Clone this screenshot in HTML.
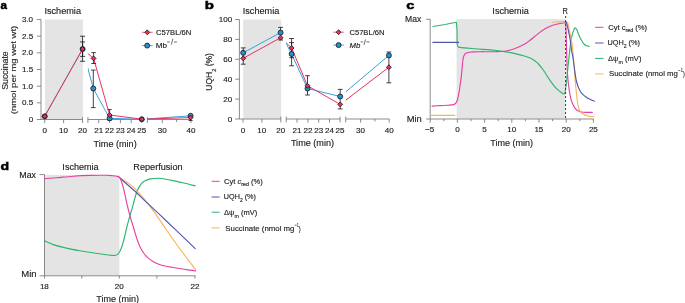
<!DOCTYPE html>
<html><head><meta charset="utf-8"><style>html,body{margin:0;padding:0;background:#fff;}svg{display:block;will-change:transform;}</style></head>
<body>
<svg width="685" height="303" viewBox="0 0 685 303" font-family="'Liberation Sans', sans-serif">
<rect width="685" height="303" fill="#fff"/>
<rect x="44.90" y="19.50" width="38.00" height="99.70" fill="#e4e4e4"/>
<line x1="41.00" y1="19.50" x2="41.00" y2="119.50" stroke="#6e6e6e" stroke-width="0.8"/>
<line x1="36.80" y1="119.50" x2="41.00" y2="119.50" stroke="#6e6e6e" stroke-width="0.8"/>
<line x1="36.80" y1="102.83" x2="41.00" y2="102.83" stroke="#6e6e6e" stroke-width="0.8"/>
<line x1="36.80" y1="86.17" x2="41.00" y2="86.17" stroke="#6e6e6e" stroke-width="0.8"/>
<line x1="36.80" y1="69.50" x2="41.00" y2="69.50" stroke="#6e6e6e" stroke-width="0.8"/>
<line x1="36.80" y1="52.83" x2="41.00" y2="52.83" stroke="#6e6e6e" stroke-width="0.8"/>
<line x1="36.80" y1="36.17" x2="41.00" y2="36.17" stroke="#6e6e6e" stroke-width="0.8"/>
<line x1="36.80" y1="19.50" x2="41.00" y2="19.50" stroke="#6e6e6e" stroke-width="0.8"/>
<line x1="41.00" y1="119.50" x2="82.50" y2="119.50" stroke="#6e6e6e" stroke-width="0.8"/>
<line x1="87.90" y1="119.50" x2="141.80" y2="119.50" stroke="#6e6e6e" stroke-width="0.8"/>
<line x1="147.40" y1="119.50" x2="190.90" y2="119.50" stroke="#6e6e6e" stroke-width="0.8"/>
<line x1="82.50" y1="117.10" x2="82.50" y2="122.90" stroke="#6e6e6e" stroke-width="0.8"/>
<line x1="87.90" y1="117.10" x2="87.90" y2="122.90" stroke="#6e6e6e" stroke-width="0.8"/>
<line x1="141.80" y1="117.10" x2="141.80" y2="122.90" stroke="#6e6e6e" stroke-width="0.8"/>
<line x1="147.40" y1="117.10" x2="147.40" y2="122.90" stroke="#6e6e6e" stroke-width="0.8"/>
<line x1="44.70" y1="119.50" x2="44.70" y2="123.10" stroke="#6e6e6e" stroke-width="0.8"/>
<line x1="63.60" y1="119.50" x2="63.60" y2="123.10" stroke="#6e6e6e" stroke-width="0.8"/>
<line x1="98.70" y1="119.50" x2="98.70" y2="123.10" stroke="#6e6e6e" stroke-width="0.8"/>
<line x1="109.60" y1="119.50" x2="109.60" y2="123.10" stroke="#6e6e6e" stroke-width="0.8"/>
<line x1="120.40" y1="119.50" x2="120.40" y2="123.10" stroke="#6e6e6e" stroke-width="0.8"/>
<line x1="131.20" y1="119.50" x2="131.20" y2="123.10" stroke="#6e6e6e" stroke-width="0.8"/>
<line x1="162.30" y1="119.50" x2="162.30" y2="123.10" stroke="#6e6e6e" stroke-width="0.8"/>
<line x1="190.90" y1="119.50" x2="190.90" y2="123.10" stroke="#6e6e6e" stroke-width="0.8"/>
<line x1="176.60" y1="119.50" x2="176.60" y2="122.00" stroke="#6e6e6e" stroke-width="0.8"/>
<clipPath id="ca"><rect x="41.0" y="0" width="41.90" height="303"/><rect x="87.9" y="0" width="54.300000000000004" height="303"/><rect x="147.4" y="0" width="44.099999999999994" height="303"/></clipPath>
<path d="M44.70,116.30 L82.60,49.00 L93.30,88.50 L109.60,118.30 L141.80,119.30 L190.60,115.80" fill="none" stroke="#36a0dc" stroke-width="1.0" clip-path="url(#ca)"/>
<path d="M44.70,116.30 L82.60,49.00 L93.60,58.40 L109.60,115.00 L141.80,119.20 L190.60,117.60" fill="none" stroke="#e8325f" stroke-width="1.0" clip-path="url(#ca)"/>
<line x1="82.60" y1="36.20" x2="82.60" y2="61.30" stroke="#151515" stroke-width="0.8"/>
<line x1="80.10" y1="36.20" x2="85.10" y2="36.20" stroke="#151515" stroke-width="0.8"/>
<line x1="80.10" y1="61.30" x2="85.10" y2="61.30" stroke="#151515" stroke-width="0.8"/>
<line x1="82.60" y1="41.90" x2="82.60" y2="56.40" stroke="#151515" stroke-width="0.8"/>
<line x1="80.10" y1="41.90" x2="85.10" y2="41.90" stroke="#151515" stroke-width="0.8"/>
<line x1="80.10" y1="56.40" x2="85.10" y2="56.40" stroke="#151515" stroke-width="0.8"/>
<line x1="93.60" y1="52.60" x2="93.60" y2="63.50" stroke="#151515" stroke-width="0.8"/>
<line x1="91.30" y1="52.60" x2="95.90" y2="52.60" stroke="#151515" stroke-width="0.8"/>
<line x1="91.30" y1="63.50" x2="95.90" y2="63.50" stroke="#151515" stroke-width="0.8"/>
<line x1="93.30" y1="70.10" x2="93.30" y2="107.60" stroke="#151515" stroke-width="0.8"/>
<line x1="91.00" y1="70.10" x2="95.60" y2="70.10" stroke="#151515" stroke-width="0.8"/>
<line x1="91.00" y1="107.60" x2="95.60" y2="107.60" stroke="#151515" stroke-width="0.8"/>
<line x1="109.60" y1="109.50" x2="109.60" y2="120.50" stroke="#151515" stroke-width="0.8"/>
<line x1="107.60" y1="109.50" x2="111.60" y2="109.50" stroke="#151515" stroke-width="0.8"/>
<line x1="107.60" y1="120.50" x2="111.60" y2="120.50" stroke="#151515" stroke-width="0.8"/>
<line x1="190.60" y1="114.50" x2="190.60" y2="120.50" stroke="#151515" stroke-width="0.8"/>
<line x1="188.60" y1="114.50" x2="192.60" y2="114.50" stroke="#151515" stroke-width="0.8"/>
<line x1="188.60" y1="120.50" x2="192.60" y2="120.50" stroke="#151515" stroke-width="0.8"/>
<circle cx="44.70" cy="116.30" r="2.5" fill="#2391d2" stroke="#151515" stroke-width="0.8"/>
<circle cx="82.60" cy="49.00" r="2.5" fill="#2391d2" stroke="#151515" stroke-width="0.8"/>
<circle cx="93.30" cy="88.50" r="2.5" fill="#2391d2" stroke="#151515" stroke-width="0.8"/>
<circle cx="109.60" cy="118.30" r="2.5" fill="#2391d2" stroke="#151515" stroke-width="0.8"/>
<circle cx="141.80" cy="119.30" r="2.5" fill="#2391d2" stroke="#151515" stroke-width="0.8"/>
<circle cx="190.60" cy="115.80" r="2.5" fill="#2391d2" stroke="#151515" stroke-width="0.8"/>
<path d="M44.70,113.85 L47.15,116.30 L44.70,118.75 L42.25,116.30 Z" fill="#e8325f" stroke="#151515" stroke-width="0.8"/>
<path d="M82.60,46.55 L85.05,49.00 L82.60,51.45 L80.15,49.00 Z" fill="#e8325f" stroke="#151515" stroke-width="0.8"/>
<path d="M93.60,55.95 L96.05,58.40 L93.60,60.85 L91.15,58.40 Z" fill="#e8325f" stroke="#151515" stroke-width="0.8"/>
<path d="M109.60,112.55 L112.05,115.00 L109.60,117.45 L107.15,115.00 Z" fill="#e8325f" stroke="#151515" stroke-width="0.8"/>
<path d="M141.80,116.75 L144.25,119.20 L141.80,121.65 L139.35,119.20 Z" fill="#e8325f" stroke="#151515" stroke-width="0.8"/>
<path d="M190.60,115.15 L193.05,117.60 L190.60,120.05 L188.15,117.60 Z" fill="#e8325f" stroke="#151515" stroke-width="0.8"/>
<g transform="translate(28.63,122.00) scale(1.1200,1)" fill="#222" stroke="#222" stroke-width="0.14"><text x="0.00" y="0.00" font-size="7.2">0</text></g>
<g transform="translate(21.93,105.33) scale(1.1200,1)" fill="#222" stroke="#222" stroke-width="0.14"><text x="0.00" y="0.00" font-size="7.2">0.5</text></g>
<g transform="translate(21.91,88.67) scale(1.1200,1)" fill="#222" stroke="#222" stroke-width="0.14"><text x="0.00" y="0.00" font-size="7.2">1.0</text></g>
<g transform="translate(21.93,72.00) scale(1.1200,1)" fill="#222" stroke="#222" stroke-width="0.14"><text x="0.00" y="0.00" font-size="7.2">1.5</text></g>
<g transform="translate(21.91,55.33) scale(1.1200,1)" fill="#222" stroke="#222" stroke-width="0.14"><text x="0.00" y="0.00" font-size="7.2">2.0</text></g>
<g transform="translate(21.93,38.67) scale(1.1200,1)" fill="#222" stroke="#222" stroke-width="0.14"><text x="0.00" y="0.00" font-size="7.2">2.5</text></g>
<g transform="translate(21.91,22.00) scale(1.1200,1)" fill="#222" stroke="#222" stroke-width="0.14"><text x="0.00" y="0.00" font-size="7.2">3.0</text></g>
<g transform="translate(42.46,133.00) scale(1.1200,1)" fill="#222" stroke="#222" stroke-width="0.14"><text x="0.00" y="0.00" font-size="7.2">0</text></g>
<g transform="translate(58.97,133.00) scale(1.1200,1)" fill="#222" stroke="#222" stroke-width="0.14"><text x="0.00" y="0.00" font-size="7.2">10</text></g>
<g transform="translate(77.97,133.00) scale(1.1200,1)" fill="#222" stroke="#222" stroke-width="0.14"><text x="0.00" y="0.00" font-size="7.2">20</text></g>
<g transform="translate(94.21,133.00) scale(1.1200,1)" fill="#222" stroke="#222" stroke-width="0.14"><text x="0.00" y="0.00" font-size="7.2">21</text></g>
<g transform="translate(105.12,133.00) scale(1.1200,1)" fill="#222" stroke="#222" stroke-width="0.14"><text x="0.00" y="0.00" font-size="7.2">22</text></g>
<g transform="translate(115.89,133.00) scale(1.1200,1)" fill="#222" stroke="#222" stroke-width="0.14"><text x="0.00" y="0.00" font-size="7.2">23</text></g>
<g transform="translate(126.63,133.00) scale(1.1200,1)" fill="#222" stroke="#222" stroke-width="0.14"><text x="0.00" y="0.00" font-size="7.2">24</text></g>
<g transform="translate(137.28,133.00) scale(1.1200,1)" fill="#222" stroke="#222" stroke-width="0.14"><text x="0.00" y="0.00" font-size="7.2">25</text></g>
<g transform="translate(157.82,133.00) scale(1.1200,1)" fill="#222" stroke="#222" stroke-width="0.14"><text x="0.00" y="0.00" font-size="7.2">30</text></g>
<g transform="translate(186.48,133.00) scale(1.1200,1)" fill="#222" stroke="#222" stroke-width="0.14"><text x="0.00" y="0.00" font-size="7.2">40</text></g>
<g transform="translate(93.60,146.50) scale(1.0467,1)" fill="#222" stroke="#222" stroke-width="0.14"><text x="0.00" y="0.00" font-size="8.7">Time (min)</text></g>
<g transform="translate(44.46,14.30) scale(1.0744,1)" fill="#222" stroke="#222" stroke-width="0.14"><text x="0.00" y="0.00" font-size="8.5">Ischemia</text></g>
<g transform="translate(0.56,8.90) scale(1.0771,1)" fill="#000" stroke="#000" stroke-width="0.5"><text x="0.00" y="0.00" font-size="10.8" font-weight="bold">a</text></g>
<g transform="translate(7.90,89.40) rotate(-90) translate(-0.40,0) scale(1.0589,1)" fill="#222" stroke="#222" stroke-width="0.14"><text x="0.00" y="0.00" font-size="8.3">Succinate</text></g>
<g transform="translate(15.80,113.60) rotate(-90) translate(-0.59,0) scale(1.2485,1)" fill="#222" stroke="#222" stroke-width="0.14"><text x="0.00" y="0.00" font-size="7.6">(nmol per mg wet wt)</text></g>
<line x1="141.90" y1="32.30" x2="152.70" y2="32.30" stroke="#ea4a73" stroke-width="0.9"/>
<path d="M147.20,29.85 L149.65,32.30 L147.20,34.75 L144.75,32.30 Z" fill="#e8325f" stroke="#151515" stroke-width="0.8"/>
<line x1="141.90" y1="45.60" x2="152.70" y2="45.60" stroke="#3aa3dd" stroke-width="0.9"/>
<circle cx="147.20" cy="45.60" r="2.5" fill="#2391d2" stroke="#151515" stroke-width="0.8"/>
<g transform="translate(156.01,34.80) scale(1.0234,1)" fill="#222" stroke="#222" stroke-width="0.14"><text x="0.00" y="0.00" font-size="7.5">C57BL/6N</text></g>
<g transform="translate(155.83,47.90) scale(1.0856,1)" fill="#222" stroke="#222" stroke-width="0.14"><text x="0.00" y="0.00" font-size="7.5">Mb</text></g>
<line x1="167.10" y1="42.00" x2="169.90" y2="42.00" stroke="#333" stroke-width="0.7"/>
<line x1="172.90" y1="38.70" x2="171.30" y2="44.60" stroke="#333" stroke-width="0.7"/>
<line x1="173.90" y1="42.00" x2="176.90" y2="42.00" stroke="#333" stroke-width="0.7"/>
<rect x="243.20" y="19.50" width="38.00" height="99.20" fill="#e4e4e4"/>
<line x1="239.40" y1="19.50" x2="239.40" y2="119.00" stroke="#6e6e6e" stroke-width="0.8"/>
<line x1="235.20" y1="119.00" x2="239.40" y2="119.00" stroke="#6e6e6e" stroke-width="0.8"/>
<line x1="235.20" y1="99.10" x2="239.40" y2="99.10" stroke="#6e6e6e" stroke-width="0.8"/>
<line x1="235.20" y1="79.20" x2="239.40" y2="79.20" stroke="#6e6e6e" stroke-width="0.8"/>
<line x1="235.20" y1="59.30" x2="239.40" y2="59.30" stroke="#6e6e6e" stroke-width="0.8"/>
<line x1="235.20" y1="39.40" x2="239.40" y2="39.40" stroke="#6e6e6e" stroke-width="0.8"/>
<line x1="235.20" y1="19.50" x2="239.40" y2="19.50" stroke="#6e6e6e" stroke-width="0.8"/>
<line x1="239.40" y1="119.00" x2="280.80" y2="119.00" stroke="#6e6e6e" stroke-width="0.8"/>
<line x1="286.20" y1="119.00" x2="340.10" y2="119.00" stroke="#6e6e6e" stroke-width="0.8"/>
<line x1="345.70" y1="119.00" x2="389.20" y2="119.00" stroke="#6e6e6e" stroke-width="0.8"/>
<line x1="280.80" y1="116.60" x2="280.80" y2="122.40" stroke="#6e6e6e" stroke-width="0.8"/>
<line x1="286.20" y1="116.60" x2="286.20" y2="122.40" stroke="#6e6e6e" stroke-width="0.8"/>
<line x1="340.10" y1="116.60" x2="340.10" y2="122.40" stroke="#6e6e6e" stroke-width="0.8"/>
<line x1="345.70" y1="116.60" x2="345.70" y2="122.40" stroke="#6e6e6e" stroke-width="0.8"/>
<line x1="243.00" y1="119.00" x2="243.00" y2="122.60" stroke="#6e6e6e" stroke-width="0.8"/>
<line x1="261.90" y1="119.00" x2="261.90" y2="122.60" stroke="#6e6e6e" stroke-width="0.8"/>
<line x1="297.00" y1="119.00" x2="297.00" y2="122.60" stroke="#6e6e6e" stroke-width="0.8"/>
<line x1="307.90" y1="119.00" x2="307.90" y2="122.60" stroke="#6e6e6e" stroke-width="0.8"/>
<line x1="318.70" y1="119.00" x2="318.70" y2="122.60" stroke="#6e6e6e" stroke-width="0.8"/>
<line x1="329.50" y1="119.00" x2="329.50" y2="122.60" stroke="#6e6e6e" stroke-width="0.8"/>
<line x1="360.60" y1="119.00" x2="360.60" y2="122.60" stroke="#6e6e6e" stroke-width="0.8"/>
<line x1="389.20" y1="119.00" x2="389.20" y2="122.60" stroke="#6e6e6e" stroke-width="0.8"/>
<line x1="374.90" y1="119.00" x2="374.90" y2="121.50" stroke="#6e6e6e" stroke-width="0.8"/>
<clipPath id="cb"><rect x="239.4" y="0" width="41.80" height="303"/><rect x="286.20000000000005" y="0" width="54.300000000000004" height="303"/><rect x="345.70000000000005" y="0" width="44.099999999999994" height="303"/></clipPath>
<path d="M243.20,52.80 L280.60,32.60 L291.60,54.00 L307.50,88.50 L340.20,96.50 L388.90,55.40" fill="none" stroke="#36a0dc" stroke-width="1.0" clip-path="url(#cb)"/>
<path d="M243.20,58.30 L280.60,37.70 L291.60,48.00 L307.50,85.80 L340.20,104.40 L388.90,67.20" fill="none" stroke="#e8325f" stroke-width="1.0" clip-path="url(#cb)"/>
<line x1="243.20" y1="47.90" x2="243.20" y2="64.20" stroke="#151515" stroke-width="0.8"/>
<line x1="240.80" y1="47.90" x2="245.60" y2="47.90" stroke="#151515" stroke-width="0.8"/>
<line x1="240.80" y1="64.20" x2="245.60" y2="64.20" stroke="#151515" stroke-width="0.8"/>
<line x1="280.60" y1="27.40" x2="280.60" y2="40.00" stroke="#151515" stroke-width="0.8"/>
<line x1="278.20" y1="27.40" x2="283.00" y2="27.40" stroke="#151515" stroke-width="0.8"/>
<line x1="278.20" y1="40.00" x2="283.00" y2="40.00" stroke="#151515" stroke-width="0.8"/>
<line x1="291.60" y1="38.50" x2="291.60" y2="57.70" stroke="#151515" stroke-width="0.8"/>
<line x1="289.20" y1="38.50" x2="294.00" y2="38.50" stroke="#151515" stroke-width="0.8"/>
<line x1="289.20" y1="57.70" x2="294.00" y2="57.70" stroke="#151515" stroke-width="0.8"/>
<line x1="291.60" y1="42.60" x2="291.60" y2="65.80" stroke="#151515" stroke-width="0.8"/>
<line x1="289.20" y1="42.60" x2="294.00" y2="42.60" stroke="#151515" stroke-width="0.8"/>
<line x1="289.20" y1="65.80" x2="294.00" y2="65.80" stroke="#151515" stroke-width="0.8"/>
<line x1="307.50" y1="75.70" x2="307.50" y2="95.00" stroke="#151515" stroke-width="0.8"/>
<line x1="305.10" y1="75.70" x2="309.90" y2="75.70" stroke="#151515" stroke-width="0.8"/>
<line x1="305.10" y1="95.00" x2="309.90" y2="95.00" stroke="#151515" stroke-width="0.8"/>
<line x1="340.20" y1="89.40" x2="340.20" y2="108.90" stroke="#151515" stroke-width="0.8"/>
<line x1="337.80" y1="89.40" x2="342.60" y2="89.40" stroke="#151515" stroke-width="0.8"/>
<line x1="337.80" y1="108.90" x2="342.60" y2="108.90" stroke="#151515" stroke-width="0.8"/>
<line x1="388.90" y1="52.00" x2="388.90" y2="82.80" stroke="#151515" stroke-width="0.8"/>
<line x1="386.50" y1="52.00" x2="391.30" y2="52.00" stroke="#151515" stroke-width="0.8"/>
<line x1="386.50" y1="82.80" x2="391.30" y2="82.80" stroke="#151515" stroke-width="0.8"/>
<circle cx="243.20" cy="52.80" r="2.5" fill="#2391d2" stroke="#151515" stroke-width="0.8"/>
<circle cx="280.60" cy="32.60" r="2.5" fill="#2391d2" stroke="#151515" stroke-width="0.8"/>
<circle cx="291.60" cy="54.00" r="2.5" fill="#2391d2" stroke="#151515" stroke-width="0.8"/>
<circle cx="307.50" cy="88.50" r="2.5" fill="#2391d2" stroke="#151515" stroke-width="0.8"/>
<circle cx="340.20" cy="96.50" r="2.5" fill="#2391d2" stroke="#151515" stroke-width="0.8"/>
<circle cx="388.90" cy="55.40" r="2.5" fill="#2391d2" stroke="#151515" stroke-width="0.8"/>
<path d="M243.20,55.85 L245.65,58.30 L243.20,60.75 L240.75,58.30 Z" fill="#e8325f" stroke="#151515" stroke-width="0.8"/>
<path d="M280.60,35.25 L283.05,37.70 L280.60,40.15 L278.15,37.70 Z" fill="#e8325f" stroke="#151515" stroke-width="0.8"/>
<path d="M291.60,45.55 L294.05,48.00 L291.60,50.45 L289.15,48.00 Z" fill="#e8325f" stroke="#151515" stroke-width="0.8"/>
<path d="M307.50,83.35 L309.95,85.80 L307.50,88.25 L305.05,85.80 Z" fill="#e8325f" stroke="#151515" stroke-width="0.8"/>
<path d="M340.20,101.95 L342.65,104.40 L340.20,106.85 L337.75,104.40 Z" fill="#e8325f" stroke="#151515" stroke-width="0.8"/>
<path d="M388.90,64.75 L391.35,67.20 L388.90,69.65 L386.45,67.20 Z" fill="#e8325f" stroke="#151515" stroke-width="0.8"/>
<g transform="translate(227.83,121.50) scale(1.1200,1)" fill="#222" stroke="#222" stroke-width="0.14"><text x="0.00" y="0.00" font-size="7.2">0</text></g>
<g transform="translate(223.35,101.60) scale(1.1200,1)" fill="#222" stroke="#222" stroke-width="0.14"><text x="0.00" y="0.00" font-size="7.2">20</text></g>
<g transform="translate(223.35,81.70) scale(1.1200,1)" fill="#222" stroke="#222" stroke-width="0.14"><text x="0.00" y="0.00" font-size="7.2">40</text></g>
<g transform="translate(223.35,61.80) scale(1.1200,1)" fill="#222" stroke="#222" stroke-width="0.14"><text x="0.00" y="0.00" font-size="7.2">60</text></g>
<g transform="translate(223.35,41.90) scale(1.1200,1)" fill="#222" stroke="#222" stroke-width="0.14"><text x="0.00" y="0.00" font-size="7.2">80</text></g>
<g transform="translate(218.86,22.00) scale(1.1200,1)" fill="#222" stroke="#222" stroke-width="0.14"><text x="0.00" y="0.00" font-size="7.2">100</text></g>
<g transform="translate(240.76,132.70) scale(1.1200,1)" fill="#222" stroke="#222" stroke-width="0.14"><text x="0.00" y="0.00" font-size="7.2">0</text></g>
<g transform="translate(257.27,132.70) scale(1.1200,1)" fill="#222" stroke="#222" stroke-width="0.14"><text x="0.00" y="0.00" font-size="7.2">10</text></g>
<g transform="translate(276.27,132.70) scale(1.1200,1)" fill="#222" stroke="#222" stroke-width="0.14"><text x="0.00" y="0.00" font-size="7.2">20</text></g>
<g transform="translate(292.51,132.70) scale(1.1200,1)" fill="#222" stroke="#222" stroke-width="0.14"><text x="0.00" y="0.00" font-size="7.2">21</text></g>
<g transform="translate(303.42,132.70) scale(1.1200,1)" fill="#222" stroke="#222" stroke-width="0.14"><text x="0.00" y="0.00" font-size="7.2">22</text></g>
<g transform="translate(314.19,132.70) scale(1.1200,1)" fill="#222" stroke="#222" stroke-width="0.14"><text x="0.00" y="0.00" font-size="7.2">23</text></g>
<g transform="translate(324.93,132.70) scale(1.1200,1)" fill="#222" stroke="#222" stroke-width="0.14"><text x="0.00" y="0.00" font-size="7.2">24</text></g>
<g transform="translate(335.58,132.70) scale(1.1200,1)" fill="#222" stroke="#222" stroke-width="0.14"><text x="0.00" y="0.00" font-size="7.2">25</text></g>
<g transform="translate(356.12,132.70) scale(1.1200,1)" fill="#222" stroke="#222" stroke-width="0.14"><text x="0.00" y="0.00" font-size="7.2">30</text></g>
<g transform="translate(384.78,132.70) scale(1.1200,1)" fill="#222" stroke="#222" stroke-width="0.14"><text x="0.00" y="0.00" font-size="7.2">40</text></g>
<g transform="translate(290.90,145.50) scale(1.0467,1)" fill="#222" stroke="#222" stroke-width="0.14"><text x="0.00" y="0.00" font-size="8.7">Time (min)</text></g>
<g transform="translate(242.76,14.30) scale(1.0744,1)" fill="#222" stroke="#222" stroke-width="0.14"><text x="0.00" y="0.00" font-size="8.5">Ischemia</text></g>
<g transform="translate(204.70,9.30) scale(1.3962,1)" fill="#000" stroke="#000" stroke-width="0.5"><text x="0.00" y="0.00" font-size="10.8" font-weight="bold">b</text></g>
<g transform="translate(212.20,90.00) rotate(-90) translate(-0.65,0) scale(0.9972,1)" fill="#222" stroke="#222" stroke-width="0.14"><text x="0.00" y="0.00" font-size="8.5">UQH</text><text x="18.89" y="3.40" font-size="5.6">2</text><text x="22.00" y="0.00" font-size="8.5"> (%)</text></g>
<line x1="333.30" y1="32.20" x2="343.90" y2="32.20" stroke="#ea4a73" stroke-width="0.9"/>
<path d="M338.60,29.75 L341.05,32.20 L338.60,34.65 L336.15,32.20 Z" fill="#e8325f" stroke="#151515" stroke-width="0.8"/>
<line x1="333.30" y1="45.10" x2="343.90" y2="45.10" stroke="#3aa3dd" stroke-width="0.9"/>
<circle cx="338.60" cy="45.10" r="2.5" fill="#2391d2" stroke="#151515" stroke-width="0.8"/>
<g transform="translate(349.41,34.60) scale(1.0144,1)" fill="#222" stroke="#222" stroke-width="0.14"><text x="0.00" y="0.00" font-size="7.5">C57BL/6N</text></g>
<g transform="translate(349.56,47.60) scale(1.0349,1)" fill="#222" stroke="#222" stroke-width="0.14"><text x="0.00" y="0.00" font-size="7.5" font-style="italic">Mb</text></g>
<line x1="360.60" y1="41.90" x2="363.20" y2="41.90" stroke="#333" stroke-width="0.7"/>
<line x1="365.50" y1="39.40" x2="364.00" y2="45.00" stroke="#333" stroke-width="0.7"/>
<line x1="366.40" y1="41.90" x2="369.60" y2="41.90" stroke="#333" stroke-width="0.7"/>
<rect x="456.60" y="19.10" width="108.90" height="99.50" fill="#e4e4e4"/>
<line x1="430.20" y1="19.30" x2="430.20" y2="119.00" stroke="#6e6e6e" stroke-width="0.8"/>
<line x1="426.20" y1="19.30" x2="430.20" y2="19.30" stroke="#6e6e6e" stroke-width="0.8"/>
<line x1="426.20" y1="119.00" x2="430.20" y2="119.00" stroke="#6e6e6e" stroke-width="0.8"/>
<line x1="430.20" y1="119.00" x2="593.60" y2="119.00" stroke="#6e6e6e" stroke-width="0.8"/>
<line x1="430.20" y1="119.00" x2="430.20" y2="122.70" stroke="#6e6e6e" stroke-width="0.8"/>
<line x1="443.80" y1="119.00" x2="443.80" y2="121.20" stroke="#6e6e6e" stroke-width="0.8"/>
<line x1="457.40" y1="119.00" x2="457.40" y2="122.70" stroke="#6e6e6e" stroke-width="0.8"/>
<line x1="471.00" y1="119.00" x2="471.00" y2="121.20" stroke="#6e6e6e" stroke-width="0.8"/>
<line x1="484.60" y1="119.00" x2="484.60" y2="122.70" stroke="#6e6e6e" stroke-width="0.8"/>
<line x1="498.20" y1="119.00" x2="498.20" y2="121.20" stroke="#6e6e6e" stroke-width="0.8"/>
<line x1="511.80" y1="119.00" x2="511.80" y2="122.70" stroke="#6e6e6e" stroke-width="0.8"/>
<line x1="525.40" y1="119.00" x2="525.40" y2="121.20" stroke="#6e6e6e" stroke-width="0.8"/>
<line x1="539.00" y1="119.00" x2="539.00" y2="122.70" stroke="#6e6e6e" stroke-width="0.8"/>
<line x1="552.60" y1="119.00" x2="552.60" y2="121.20" stroke="#6e6e6e" stroke-width="0.8"/>
<line x1="566.20" y1="119.00" x2="566.20" y2="122.70" stroke="#6e6e6e" stroke-width="0.8"/>
<line x1="579.80" y1="119.00" x2="579.80" y2="121.20" stroke="#6e6e6e" stroke-width="0.8"/>
<line x1="593.40" y1="119.00" x2="593.40" y2="122.70" stroke="#6e6e6e" stroke-width="0.8"/>
<path d="M432.90,26.50 L445.00,24.50 L456.30,22.30" fill="none" stroke="#2db56e" stroke-width="1.15" stroke-linejoin="round" stroke-linecap="round"/>
<path d="M456.30,22.30 C456.42,23.58 456.85,26.35 457.00,30.00 C457.15,33.65 457.00,41.43 457.20,44.20 C457.40,46.97 457.73,46.07 458.20,46.60 C458.67,47.13 457.23,47.05 460.00,47.40 C462.77,47.75 469.03,48.23 474.80,48.70 C480.57,49.17 489.65,49.72 494.60,50.20 C499.55,50.68 501.20,51.07 504.50,51.60 C507.80,52.13 511.10,52.67 514.40,53.40 C517.70,54.13 521.70,55.23 524.30,56.00 C526.90,56.77 528.33,57.25 530.00,58.00 C531.67,58.75 532.97,59.58 534.30,60.50 C535.63,61.42 536.57,62.00 538.00,63.50 C539.43,65.00 541.02,66.87 542.90,69.50 C544.78,72.13 547.15,76.23 549.30,79.30 C551.45,82.37 554.02,85.87 555.80,87.90 C557.58,89.93 558.65,90.48 560.00,91.50 C561.35,92.52 563.02,94.08 563.90,94.00 C564.78,93.92 564.87,93.08 565.30,91.00 C565.73,88.92 565.93,86.67 566.50,81.50 C567.07,76.33 567.97,66.72 568.70,60.00 C569.43,53.28 570.23,45.67 570.90,41.20 C571.57,36.73 572.10,35.33 572.70,33.20 C573.30,31.07 574.05,29.27 574.50,28.40 C574.95,27.53 575.03,27.80 575.40,28.00 C575.77,28.20 576.18,28.60 576.70,29.60 C577.22,30.60 577.95,32.67 578.50,34.00 C579.05,35.33 579.33,36.27 580.00,37.60 C580.67,38.93 581.75,40.85 582.50,42.00 C583.25,43.15 583.83,43.87 584.50,44.50 C585.17,45.13 585.70,45.52 586.50,45.80 C587.30,46.08 588.83,46.13 589.30,46.20" fill="none" stroke="#2db56e" stroke-width="1.15" stroke-linejoin="round" stroke-linecap="round"/>
<path d="M432.90,42.40 L458.60,42.40" fill="none" stroke="#5258b0" stroke-width="1.15" stroke-linejoin="round" stroke-linecap="round"/>
<path d="M430.80,115.40 L454.70,115.40" fill="none" stroke="#f7b65a" stroke-width="1.15" stroke-linejoin="round" stroke-linecap="round"/>
<path d="M432.20,106.10 C433.50,106.02 437.37,105.75 440.00,105.60 C442.63,105.45 446.00,105.32 448.00,105.20 C450.00,105.08 450.92,105.07 452.00,104.90 C453.08,104.73 453.80,104.58 454.50,104.20 C455.20,103.82 455.70,103.38 456.20,102.60 C456.70,101.82 457.10,100.85 457.50,99.50 C457.90,98.15 458.25,96.25 458.60,94.50 C458.95,92.75 459.12,92.30 459.60,89.00 C460.08,85.70 460.95,79.53 461.50,74.70 C462.05,69.87 462.50,63.15 462.90,60.00 C463.30,56.85 463.42,56.93 463.90,55.80 C464.38,54.67 464.82,53.80 465.80,53.20 C466.78,52.60 468.43,52.42 469.80,52.20 C471.17,51.98 472.30,51.98 474.00,51.90 C475.70,51.82 478.22,51.73 480.00,51.70 C481.78,51.67 482.27,51.70 484.70,51.70 C487.13,51.70 491.30,51.78 494.60,51.70 C497.90,51.62 501.20,51.68 504.50,51.20 C507.80,50.72 511.10,49.95 514.40,48.80 C517.70,47.65 521.70,45.72 524.30,44.30 C526.90,42.88 527.68,42.08 530.00,40.30 C532.32,38.52 535.62,35.55 538.20,33.60 C540.78,31.65 543.07,29.98 545.50,28.60 C547.93,27.22 550.37,26.15 552.80,25.30 C555.23,24.45 558.02,23.95 560.10,23.50 C562.18,23.05 564.43,22.75 565.30,22.60" fill="none" stroke="#e83fa3" stroke-width="1.15" stroke-linejoin="round" stroke-linecap="round"/>
<path d="M565.30,22.60 C565.42,23.50 565.78,23.43 566.00,28.00 C566.22,32.57 566.38,43.00 566.60,50.00 C566.82,57.00 567.00,64.33 567.30,70.00 C567.60,75.67 567.82,79.22 568.40,84.00 C568.98,88.78 570.03,95.28 570.80,98.70 C571.57,102.12 572.28,102.90 573.00,104.50 C573.72,106.10 574.27,107.25 575.10,108.30 C575.93,109.35 576.93,110.18 578.00,110.80 C579.07,111.42 580.17,111.73 581.50,112.00 C582.83,112.27 584.20,112.33 586.00,112.40 C587.80,112.47 591.25,112.40 592.30,112.40" fill="none" stroke="#e83fa3" stroke-width="1.15" stroke-linejoin="round" stroke-linecap="round"/>
<path d="M552.10,22.20 C553.08,22.15 555.85,22.00 558.00,21.90 C560.15,21.80 563.58,21.62 565.00,21.60 C566.42,21.58 566.03,21.52 566.50,21.80 C566.97,22.08 567.43,22.45 567.80,23.30 C568.17,24.15 568.40,25.55 568.70,26.90 C569.00,28.25 569.30,29.92 569.60,31.40 C569.90,32.88 570.20,34.32 570.50,35.80 C570.80,37.28 571.12,38.77 571.40,40.30 C571.68,41.83 571.90,42.55 572.20,45.00 C572.50,47.45 572.85,51.17 573.20,55.00 C573.55,58.83 573.95,63.58 574.30,68.00 C574.65,72.42 574.93,77.17 575.30,81.50 C575.67,85.83 576.08,90.25 576.50,94.00 C576.92,97.75 577.30,101.28 577.80,104.00 C578.30,106.72 578.67,108.67 579.50,110.30 C580.33,111.93 581.22,112.80 582.80,113.80 C584.38,114.80 587.13,115.80 589.00,116.30 C590.87,116.80 593.17,116.72 594.00,116.80" fill="none" stroke="#f7b65a" stroke-width="1.15" stroke-linejoin="round" stroke-linecap="round"/>
<path d="M565.80,21.50 C565.98,21.95 566.57,23.15 566.90,24.20 C567.23,25.25 567.50,26.45 567.80,27.80 C568.10,29.15 568.33,30.52 568.70,32.30 C569.07,34.08 569.63,36.38 570.00,38.50 C570.37,40.62 570.63,42.92 570.90,45.00 C571.17,47.08 571.28,49.08 571.60,51.00 C571.92,52.92 572.32,53.50 572.80,56.50 C573.28,59.50 573.88,64.83 574.50,69.00 C575.12,73.17 575.53,77.75 576.50,81.50 C577.47,85.25 578.83,89.00 580.30,91.50 C581.77,94.00 583.68,95.20 585.30,96.50 C586.92,97.80 588.48,98.52 590.00,99.30 C591.52,100.08 593.67,100.88 594.40,101.20" fill="none" stroke="#5258b0" stroke-width="1.15" stroke-linejoin="round" stroke-linecap="round"/>
<line x1="565.6" y1="16.0" x2="565.6" y2="119" stroke="#3a3a3a" stroke-width="1.0" stroke-dasharray="2.0 2.0"/>
<g transform="translate(562.39,13.60) scale(0.8940,1)" fill="#222" stroke="#222" stroke-width="0.14"><text x="0.00" y="0.00" font-size="8.3">R</text></g>
<g transform="translate(492.36,14.40) scale(1.0714,1)" fill="#222" stroke="#222" stroke-width="0.14"><text x="0.00" y="0.00" font-size="8.5">Ischemia</text></g>
<g transform="translate(406.33,8.80) scale(1.3471,1)" fill="#000" stroke="#000" stroke-width="0.5"><text x="0.00" y="0.00" font-size="10.8" font-weight="bold">c</text></g>
<g transform="translate(405.10,22.10) scale(1.0088,1)" fill="#222" stroke="#222" stroke-width="0.14"><text x="0.00" y="0.00" font-size="8.5">Max</text></g>
<g transform="translate(406.63,122.00) scale(1.1009,1)" fill="#222" stroke="#222" stroke-width="0.14"><text x="0.00" y="0.00" font-size="8.5">Min</text></g>
<g transform="translate(424.98,132.20) scale(1.1200,1)" fill="#222" stroke="#222" stroke-width="0.14"><text x="0.00" y="0.00" font-size="7.2">−5</text></g>
<g transform="translate(455.16,132.20) scale(1.1200,1)" fill="#222" stroke="#222" stroke-width="0.14"><text x="0.00" y="0.00" font-size="7.2">0</text></g>
<g transform="translate(482.37,132.20) scale(1.1200,1)" fill="#222" stroke="#222" stroke-width="0.14"><text x="0.00" y="0.00" font-size="7.2">5</text></g>
<g transform="translate(507.17,132.20) scale(1.1200,1)" fill="#222" stroke="#222" stroke-width="0.14"><text x="0.00" y="0.00" font-size="7.2">10</text></g>
<g transform="translate(534.38,132.20) scale(1.1200,1)" fill="#222" stroke="#222" stroke-width="0.14"><text x="0.00" y="0.00" font-size="7.2">15</text></g>
<g transform="translate(561.67,132.20) scale(1.1200,1)" fill="#222" stroke="#222" stroke-width="0.14"><text x="0.00" y="0.00" font-size="7.2">20</text></g>
<g transform="translate(588.88,132.20) scale(1.1200,1)" fill="#222" stroke="#222" stroke-width="0.14"><text x="0.00" y="0.00" font-size="7.2">25</text></g>
<g transform="translate(490.20,146.20) scale(1.0638,1)" fill="#222" stroke="#222" stroke-width="0.14"><text x="0.00" y="0.00" font-size="8.5">Time (min)</text></g>
<line x1="595.10" y1="27.30" x2="603.50" y2="27.30" stroke="#e83fa3" stroke-width="1.0"/>
<line x1="595.10" y1="43.00" x2="603.50" y2="43.00" stroke="#5258b0" stroke-width="1.0"/>
<line x1="595.10" y1="58.40" x2="603.50" y2="58.40" stroke="#2db56e" stroke-width="1.0"/>
<line x1="595.10" y1="73.90" x2="603.50" y2="73.90" stroke="#f7b65a" stroke-width="1.0"/>
<g transform="translate(608.21,29.70) scale(0.9507,1)" fill="#222" stroke="#222" stroke-width="0.14"><text x="0.00" y="0.00" font-size="8.0">Cyt c</text><text x="18.22" y="2.60" font-size="5.6">red</text><text x="26.32" y="0.00" font-size="8.0"> (%)</text></g>
<g transform="translate(607.43,45.30) scale(0.9174,1)" fill="#222" stroke="#222" stroke-width="0.14"><text x="0.00" y="0.00" font-size="8.0">UQH</text><text x="17.78" y="2.40" font-size="5.6">2</text><text x="20.89" y="0.00" font-size="8.0"> (%)</text></g>
<g transform="translate(608.07,61.20) scale(0.9471,1)" fill="#222" stroke="#222" stroke-width="0.14"><text x="0.00" y="0.00" font-size="8.0">Δψ</text><text x="11.05" y="2.40" font-size="5.6">m</text><text x="15.71" y="0.00" font-size="8.0"> (mV)</text></g>
<g transform="translate(609.04,75.70) scale(0.9754,1)" fill="#222" stroke="#222" stroke-width="0.14"><text x="0.00" y="0.00" font-size="8.0">Succinate (nmol mg</text></g>
<line x1="678.20" y1="70.50" x2="680.40" y2="70.50" stroke="#222" stroke-width="0.6"/>
<g transform="translate(680.95,72.00) scale(0.6497,1)" fill="#222" stroke="#222" stroke-width="0.14"><text x="0.00" y="0.00" font-size="5.0">1</text></g>
<g transform="translate(682.97,75.70) scale(0.6604,1)" fill="#222" stroke="#222" stroke-width="0.14"><text x="0.00" y="0.00" font-size="8.0">)</text></g>
<rect x="44.50" y="174.90" width="74.90" height="100.50" fill="#e4e4e4"/>
<line x1="44.50" y1="174.60" x2="44.50" y2="275.80" stroke="#6e6e6e" stroke-width="0.8"/>
<line x1="39.50" y1="174.60" x2="44.50" y2="174.60" stroke="#6e6e6e" stroke-width="0.8"/>
<line x1="39.50" y1="275.80" x2="44.50" y2="275.80" stroke="#6e6e6e" stroke-width="0.8"/>
<line x1="44.50" y1="275.80" x2="195.40" y2="275.80" stroke="#6e6e6e" stroke-width="0.8"/>
<line x1="44.50" y1="275.80" x2="44.50" y2="278.60" stroke="#6e6e6e" stroke-width="0.8"/>
<line x1="81.80" y1="275.80" x2="81.80" y2="278.60" stroke="#6e6e6e" stroke-width="0.8"/>
<line x1="119.30" y1="275.80" x2="119.30" y2="278.60" stroke="#6e6e6e" stroke-width="0.8"/>
<line x1="156.90" y1="275.80" x2="156.90" y2="278.60" stroke="#6e6e6e" stroke-width="0.8"/>
<line x1="195.00" y1="275.80" x2="195.00" y2="278.60" stroke="#6e6e6e" stroke-width="0.8"/>
<path d="M44.50,240.90 C45.95,241.52 49.55,243.40 53.20,244.60 C56.85,245.80 62.00,247.08 66.40,248.10 C70.80,249.12 75.20,249.92 79.60,250.70 C84.00,251.48 88.40,252.13 92.80,252.80 C97.20,253.47 102.80,254.27 106.00,254.70 C109.20,255.13 110.42,255.30 112.00,255.40 C113.58,255.50 114.52,255.52 115.50,255.30 C116.48,255.08 117.10,254.90 117.90,254.10 C118.70,253.30 119.53,252.10 120.30,250.50 C121.07,248.90 121.80,246.75 122.50,244.50 C123.20,242.25 123.85,239.58 124.50,237.00 C125.15,234.42 125.75,231.65 126.40,229.00 C127.05,226.35 127.68,223.73 128.40,221.10 C129.12,218.47 130.00,215.58 130.70,213.20 C131.40,210.82 131.92,209.25 132.60,206.80 C133.28,204.35 134.10,200.97 134.80,198.50 C135.50,196.03 136.13,193.82 136.80,192.00 C137.47,190.18 138.02,189.00 138.80,187.60 C139.58,186.20 140.52,184.70 141.50,183.60 C142.48,182.50 143.17,181.78 144.70,181.00 C146.23,180.22 148.38,179.35 150.70,178.90 C153.02,178.45 156.05,178.25 158.60,178.30 C161.15,178.35 163.37,178.77 166.00,179.20 C168.63,179.63 171.23,180.22 174.40,180.90 C177.57,181.58 181.53,182.47 185.00,183.30 C188.47,184.13 193.50,185.47 195.20,185.90" fill="none" stroke="#2db56e" stroke-width="1.15" stroke-linejoin="round" stroke-linecap="round"/>
<path d="M118.60,176.90 C119.98,177.78 124.17,180.25 126.90,182.20 C129.63,184.15 132.03,185.68 135.00,188.60 C137.97,191.52 141.43,195.70 144.70,199.70 C147.97,203.70 150.97,207.55 154.60,212.60 C158.23,217.65 162.27,223.93 166.50,230.00 C170.73,236.07 175.17,242.42 180.00,249.00 C184.83,255.58 192.92,266.08 195.50,269.50" fill="none" stroke="#f7b65a" stroke-width="1.15" stroke-linejoin="round" stroke-linecap="round"/>
<path d="M118.60,176.90 C121.33,179.30 130.65,187.35 135.00,191.30 C139.35,195.25 140.53,196.67 144.70,200.60 C148.87,204.53 155.05,210.23 160.00,214.90 C164.95,219.57 168.53,222.97 174.40,228.60 C180.27,234.23 191.73,245.35 195.20,248.70" fill="none" stroke="#5258b0" stroke-width="1.15" stroke-linejoin="round" stroke-linecap="round"/>
<path d="M44.60,178.70 C46.58,178.55 51.77,178.22 56.50,177.80 C61.23,177.38 67.50,176.60 73.00,176.20 C78.50,175.80 84.00,175.55 89.50,175.40 C95.00,175.25 102.13,175.25 106.00,175.30 C109.87,175.35 110.77,175.50 112.70,175.70 C114.63,175.90 116.47,176.22 117.60,176.50 C118.73,176.78 118.95,176.83 119.50,177.40 C120.05,177.97 120.17,177.83 120.90,179.90 C121.63,181.97 122.90,185.83 123.90,189.80 C124.90,193.77 125.90,199.38 126.90,203.70 C127.90,208.02 128.75,211.57 129.90,215.70 C131.05,219.83 132.62,224.62 133.80,228.50 C134.98,232.38 135.92,235.83 137.00,239.00 C138.08,242.17 139.13,245.08 140.30,247.50 C141.47,249.92 142.67,251.73 144.00,253.50 C145.33,255.27 146.80,256.77 148.30,258.10 C149.80,259.43 151.25,260.48 153.00,261.50 C154.75,262.52 156.80,263.45 158.80,264.20 C160.80,264.95 162.80,265.48 165.00,266.00 C167.20,266.52 168.83,266.77 172.00,267.30 C175.17,267.83 180.08,268.60 184.00,269.20 C187.92,269.80 193.58,270.62 195.50,270.90" fill="none" stroke="#e83fa3" stroke-width="1.15" stroke-linejoin="round" stroke-linecap="round"/>
<g transform="translate(0.42,169.80) scale(1.3044,1)" fill="#000" stroke="#000" stroke-width="0.5"><text x="0.00" y="0.00" font-size="10.8" font-weight="bold">d</text></g>
<g transform="translate(19.27,177.60) scale(1.0415,1)" fill="#222" stroke="#222" stroke-width="0.14"><text x="0.00" y="0.00" font-size="8.5">Max</text></g>
<g transform="translate(21.32,277.20) scale(1.1579,1)" fill="#222" stroke="#222" stroke-width="0.14"><text x="0.00" y="0.00" font-size="8.2">Min</text></g>
<g transform="translate(62.37,170.20) scale(1.0654,1)" fill="#222" stroke="#222" stroke-width="0.14"><text x="0.00" y="0.00" font-size="8.5">Ischemia</text></g>
<g transform="translate(133.35,169.90) scale(1.0744,1)" fill="#222" stroke="#222" stroke-width="0.14"><text x="0.00" y="0.00" font-size="8.5">Reperfusion</text></g>
<g transform="translate(39.88,288.90) scale(1.1200,1)" fill="#222" stroke="#222" stroke-width="0.14"><text x="0.00" y="0.00" font-size="7.2">18</text></g>
<g transform="translate(114.77,288.90) scale(1.1200,1)" fill="#222" stroke="#222" stroke-width="0.14"><text x="0.00" y="0.00" font-size="7.2">20</text></g>
<g transform="translate(190.52,288.90) scale(1.1200,1)" fill="#222" stroke="#222" stroke-width="0.14"><text x="0.00" y="0.00" font-size="7.2">22</text></g>
<g transform="translate(96.30,301.50) scale(1.0612,1)" fill="#222" stroke="#222" stroke-width="0.14"><text x="0.00" y="0.00" font-size="8.5">Time (min)</text></g>
<line x1="211.60" y1="181.30" x2="219.70" y2="181.30" stroke="#e83fa3" stroke-width="1.0"/>
<line x1="211.60" y1="197.00" x2="219.70" y2="197.00" stroke="#5258b0" stroke-width="1.0"/>
<line x1="211.60" y1="212.20" x2="219.70" y2="212.20" stroke="#2db56e" stroke-width="1.0"/>
<line x1="211.60" y1="227.90" x2="219.70" y2="227.90" stroke="#f7b65a" stroke-width="1.0"/>
<g transform="translate(224.01,183.80) scale(0.9989,1)" fill="#222" stroke="#222" stroke-width="0.14"><text x="0.00" y="0.00" font-size="7.6">Cyt </text><text x="13.51" y="0.00" font-size="7.6" font-style="italic">c</text><text x="17.31" y="2.40" font-size="5.3">red</text><text x="24.97" y="0.00" font-size="7.6"> (%)</text></g>
<g transform="translate(223.84,199.30) scale(0.9508,1)" fill="#222" stroke="#222" stroke-width="0.14"><text x="0.00" y="0.00" font-size="7.6">UQH</text><text x="16.89" y="2.20" font-size="5.3">2</text><text x="19.84" y="0.00" font-size="7.6"> (%)</text></g>
<g transform="translate(224.07,215.30) scale(0.9944,1)" fill="#222" stroke="#222" stroke-width="0.14"><text x="0.00" y="0.00" font-size="7.6">Δψ</text><text x="10.49" y="2.20" font-size="5.3">m</text><text x="14.91" y="0.00" font-size="7.6"> (mV)</text></g>
<g transform="translate(225.34,230.60) scale(1.0298,1)" fill="#222" stroke="#222" stroke-width="0.14"><text x="0.00" y="0.00" font-size="7.6">Succinate (nmol mg</text></g>
<line x1="294.60" y1="225.20" x2="296.70" y2="225.20" stroke="#222" stroke-width="0.6"/>
<g transform="translate(296.97,226.70) scale(0.6156,1)" fill="#222" stroke="#222" stroke-width="0.14"><text x="0.00" y="0.00" font-size="4.9">1</text></g>
<g transform="translate(298.87,230.60) scale(0.7448,1)" fill="#222" stroke="#222" stroke-width="0.14"><text x="0.00" y="0.00" font-size="7.6">)</text></g>
</svg>
</body></html>
